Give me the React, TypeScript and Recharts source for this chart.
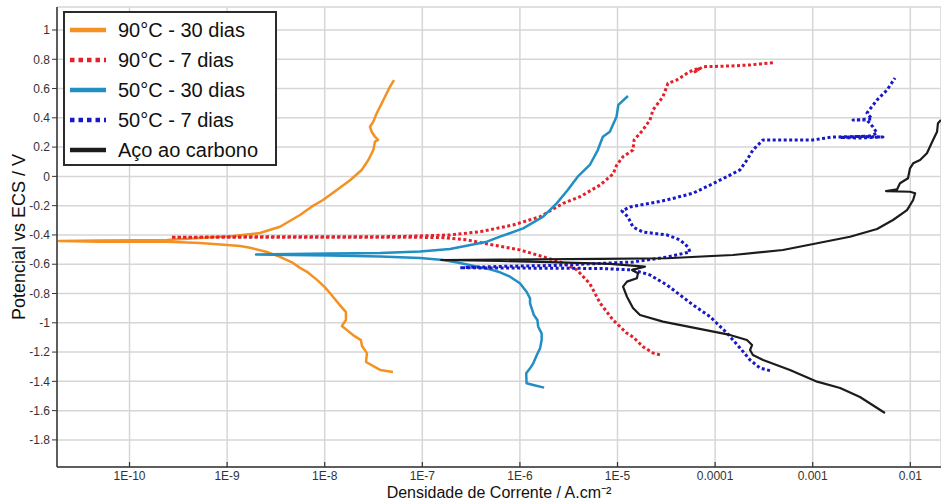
import React from 'react';
import { LineChart, Line, XAxis, YAxis, CartesianGrid, Legend } from 'recharts';

const FONT = '"Liberation Sans", Arial, Helvetica, sans-serif';

// ---- axis ticks ----
const xTicks = [1e-10, 1e-9, 1e-8, 1e-7, 1e-6, 1e-5, 1e-4, 1e-3, 1e-2];
const xTickLabels = ['1E-10', '1E-9', '1E-8', '1E-7', '1E-6', '1E-5', '0.0001', '0.001', '0.01'];
const yTicks = [-1.8, -1.6, -1.4, -1.2, -1, -0.8, -0.6, -0.4, -0.2, 0, 0.2, 0.4, 0.6, 0.8, 1];
const yTickLabels = ['-1.8', '-1.6', '-1.4', '-1.2', '-1', '-0.8', '-0.6', '-0.4', '-0.2', '0', '0.2', '0.4', '0.6', '0.8', '1'];
const yMinorTicks = [-1.9, -1.7, -1.5, -1.3, -1.1, -0.9, -0.7, -0.5, -0.3, -0.1, 0.1, 0.3, 0.5, 0.7, 0.9, 1.1];
const xDomain = [1.807e-11, 2.063e-2];
const yDomain = [-1.985, 1.157];

// ---- series: [current density A/cm², potential V vs ECS] ----
const curve90c30d: [number, number][] = [
  [5.0e-8, -1.336], [3.69e-8, -1.322], [2.65e-8, -1.268], [2.71e-8, -1.207], [2.41e-8, -1.159],
  [2.35e-8, -1.118], [1.95e-8, -1.084], [1.69e-8, -1.05], [1.5e-8, -1.022], [1.65e-8, -0.981],
  [1.65e-8, -0.927], [1.43e-8, -0.879], [1.13e-8, -0.797], [1.0e-8, -0.756], [8.34e-9, -0.707],
  [6.59e-9, -0.652], [5.58e-9, -0.625], [4.73e-9, -0.591], [3.48e-9, -0.55], [2.56e-9, -0.516],
  [1.72e-9, -0.488], [1.36e-9, -0.475], [1.0e-9, -0.468], [5.27e-10, -0.455], [2.42e-10, -0.446],
  [4.99e-11, -0.446], [1.9e-11, -0.441], [4.99e-11, -0.438], [2.42e-10, -0.434], [5.27e-10, -0.421],
  [1.15e-9, -0.407], [2.17e-9, -0.387], [3.48e-9, -0.344], [5.58e-9, -0.264], [7.36e-9, -0.207],
  [9.6e-9, -0.161], [1.33e-8, -0.093], [1.82e-8, -0.026], [2.39e-8, 0.044], [2.8e-8, 0.112],
  [3.15e-8, 0.18], [3.27e-8, 0.237], [3.52e-8, 0.249], [3.27e-8, 0.271], [3.03e-8, 0.305],
  [2.91e-8, 0.339], [3.15e-8, 0.374], [3.41e-8, 0.431], [3.84e-8, 0.499], [3.99e-8, 0.522],
  [4.32e-8, 0.568], [4.67e-8, 0.613], [5.13e-8, 0.658],
];

const curve90c7d: [number, number][] = [
  [2.72e-5, -1.219], [2.31e-5, -1.206], [1.82e-5, -1.163], [1.44e-5, -1.097], [1.24e-5, -1.07],
  [9.0e-6, -0.981], [6.62e-6, -0.865], [5.23e-6, -0.735], [3.85e-6, -0.639], [2.77e-6, -0.592],
  [1.9e-6, -0.557], [1.0e-6, -0.502], [5.3e-7, -0.469], [2.87e-7, -0.434], [1.52e-7, -0.417],
  [5.9e-8, -0.416], [1.13e-8, -0.416], [1.72e-9, -0.416], [2.66e-10, -0.416],
  [1.72e-9, -0.413], [1.13e-8, -0.413], [5.9e-8, -0.411], [1.92e-7, -0.4], [3.9e-7, -0.378],
  [8.49e-7, -0.332], [1.61e-6, -0.275], [2.77e-6, -0.184], [4.13e-6, -0.139], [6.62e-6, -0.059],
  [9.0e-6, 0.016], [9.8e-6, 0.076], [1.14e-5, 0.135], [1.44e-5, 0.18], [1.48e-5, 0.249],
  [1.82e-5, 0.317], [2.15e-5, 0.385], [2.31e-5, 0.454], [2.92e-5, 0.544], [3.29e-5, 0.636],
  [4.03e-5, 0.658], [5.15e-5, 0.704], [5.94e-5, 0.727], [7.0e-5, 0.738], [6.22e-5, 0.715],
  [7.52e-5, 0.749], [1.42e-4, 0.754], [2.28e-4, 0.761], [2.88e-4, 0.768], [4.01e-4, 0.777],
];

const curve50c30d: [number, number][] = [
  [1.77e-6, -1.443], [1.37e-6, -1.425], [1.17e-6, -1.413], [1.16e-6, -1.345], [1.27e-6, -1.311],
  [1.37e-6, -1.277], [1.49e-6, -1.22], [1.61e-6, -1.174], [1.67e-6, -1.117], [1.67e-6, -1.072],
  [1.54e-6, -1.027], [1.51e-6, -0.981], [1.39e-6, -0.947], [1.32e-6, -0.901], [1.27e-6, -0.867],
  [1.27e-6, -0.833], [1.17e-6, -0.788], [1.0e-6, -0.73], [7.92e-7, -0.685], [6.25e-7, -0.655],
  [4.94e-7, -0.635], [3.9e-7, -0.621], [2.43e-7, -0.592], [1.63e-7, -0.571], [9.5e-8, -0.557],
  [3.69e-8, -0.547], [1.13e-8, -0.54], [4.4e-9, -0.537], [1.98e-9, -0.533],
  [4.4e-9, -0.53], [1.13e-8, -0.527], [3.69e-8, -0.524], [9.5e-8, -0.513], [1.92e-7, -0.496],
  [4.6e-7, -0.446], [6.25e-7, -0.412], [1.08e-6, -0.355], [1.73e-6, -0.275], [2.38e-6, -0.184],
  [3.09e-6, -0.093], [3.91e-6, -0.002], [5.2e-6, 0.078], [6.28e-6, 0.18], [7.08e-6, 0.271],
  [8.34e-6, 0.305], [9.77e-6, 0.408], [1.02e-5, 0.488], [1.28e-5, 0.549],
];

const curve50c7d: [number, number][] = [
  [3.65e-4, -1.327], [2.88e-4, -1.309], [2.28e-4, -1.254], [1.8e-4, -1.172], [1.32e-4, -1.07],
  [8.87e-5, -0.958], [5.94e-5, -0.878], [4.37e-5, -0.81], [3.21e-5, -0.742], [2.15e-5, -0.673],
  [1.44e-5, -0.639], [6.62e-6, -0.629], [2.03e-6, -0.627], [6.25e-7, -0.626], [2.43e-7, -0.624],
  [6.25e-7, -0.615], [2.03e-6, -0.609], [1.44e-5, -0.585], [3.21e-5, -0.551], [5.53e-5, -0.516],
  [5.27e-5, -0.482], [4.37e-5, -0.434], [3.21e-5, -0.4], [1.82e-5, -0.38], [1.44e-5, -0.346],
  [1.28e-5, -0.277], [1.11e-5, -0.236], [1.34e-5, -0.209], [2.15e-5, -0.184], [3.21e-5, -0.161],
  [5.94e-5, -0.115], [8.87e-5, -0.059], [1.32e-4, -0.002], [1.8e-4, 0.044], [2.12e-4, 0.112],
  [2.44e-4, 0.18], [3.1e-4, 0.249], [5.86e-4, 0.249], [1.0e-3, 0.249], [1.61e-3, 0.269],
  [3.05e-3, 0.273], [5.25e-3, 0.269], [3.05e-3, 0.262], [1.91e-3, 0.266], [3.86e-3, 0.276],
  [4.56e-3, 0.296], [4.15e-3, 0.337], [3.6e-3, 0.385], [2.59e-3, 0.385], [4.05e-3, 0.392],
  [3.6e-3, 0.433], [4.56e-3, 0.522], [5.77e-3, 0.59], [6.97e-3, 0.672],
];

const curveCarbonSteel: [number, number][] = [
  [5.5e-3, -1.616], [3.05e-3, -1.507], [1.91e-3, -1.445], [1.11e-3, -1.402], [5.85e-4, -1.322],
  [3.1e-4, -1.254], [2.44e-4, -1.22], [2.28e-4, -1.186], [2.39e-4, -1.152], [2.12e-4, -1.118],
  [1.42e-4, -1.083], [6.53e-5, -1.038], [2.92e-5, -0.992], [1.7e-5, -0.947], [1.44e-5, -0.899],
  [1.25e-5, -0.822], [1.14e-5, -0.753], [1.25e-5, -0.719], [1.58e-5, -0.696], [1.62e-5, -0.662],
  [1.41e-5, -0.639], [1.91e-5, -0.617], [8.38e-6, -0.598], [2.03e-6, -0.585], [6.25e-7, -0.578],
  [1.56e-7, -0.571],
  [6.25e-7, -0.568], [6.62e-6, -0.564], [3.21e-5, -0.559], [1.52e-4, -0.537], [4.95e-4, -0.503],
  [1.11e-3, -0.457], [2.41e-3, -0.412], [4.56e-3, -0.359], [6.65e-3, -0.298], [9.25e-3, -0.23],
  [1.07e-2, -0.161], [1.12e-2, -0.115], [9.93e-3, -0.105], [5.64e-3, -0.1], [7.31e-3, -0.089],
  [7.84e-3, -0.047], [9.47e-3, -0.013], [9.93e-3, 0.055], [1.07e-2, 0.089], [1.26e-2, 0.112],
  [1.48e-2, 0.158], [1.71e-2, 0.249], [1.88e-2, 0.305], [1.92e-2, 0.363], [2.06e-2, 0.385],
];

const toRows = (pts: [number, number][]) => pts.map(([i, v]) => ({ i, v }));

const series = [
  { name: '90°C - 30 dias', data: curve90c30d, color: '#f39122', dotted: false, width: 2.5 },
  { name: '90°C - 7 dias', data: curve90c7d, color: '#e4202a', dotted: true, width: 3 },
  { name: '50°C - 30 dias', data: curve50c30d, color: '#218fc3', dotted: false, width: 2.5 },
  { name: '50°C - 7 dias', data: curve50c7d, color: '#1818c8', dotted: true, width: 3 },
  { name: 'Aço ao carbono', data: curveCarbonSteel, color: '#1c1c1c', dotted: false, width: 2.2 },
];

const labelFor = (v: number, ticks: number[], labels: string[], log: boolean) => {
  const idx = ticks.findIndex((t) =>
    log ? Math.abs(Math.log10(t) - Math.log10(v)) < 1e-6 : Math.abs(t - v) < 1e-6
  );
  return idx >= 0 ? labels[idx] : '';
};

const BOTTOM_MARGIN = 4;

const BottomTick = (props: any) => {
  const { x, y, payload } = props;
  const axisY = y - BOTTOM_MARGIN;
  return (
    <g>
      <line x1={x} x2={x} y1={axisY} y2={axisY - 5} stroke="#333" strokeWidth={1.2} />
      <text x={x} y={y} dy="0.71em" textAnchor="middle" fontSize={12} fill="#333" fontFamily={FONT}>
        {labelFor(payload.value, xTicks, xTickLabels, true)}
      </text>
    </g>
  );
};

const TopTick = (props: any) => {
  const { x, y } = props;
  return <line x1={x} x2={x} y1={y} y2={y + 6} stroke="#333" strokeWidth={1.2} />;
};

const YTitle = (props: any) => {
  const vb = props.viewBox || { x: 0, y: 7, width: 57, height: 460 };
  const cx = 19;
  const cy = vb.y + vb.height / 2;
  return (
    <text x={cx} y={cy} transform={`rotate(-90, ${cx}, ${cy})`} textAnchor="middle" dominantBaseline="central"
      fontSize={18} fill="#111" fontFamily={FONT}>
      Potencial vs ECS / V
    </text>
  );
};

const XTitle = (props: any) => {
  const vb = props.viewBox || { x: 57, y: 467, width: 884, height: 34 };
  return (
    <text x={vb.x + vb.width / 2} y={vb.y + 25} textAnchor="middle" dominantBaseline="central"
      fontSize={16} fill="#111" fontFamily={FONT}>
      Densidade de Corrente / A.cm⁻²
    </text>
  );
};

const LegendBox = () => (
  <div style={{
    border: '2px solid #2b2b2b', background: '#fff', width: 214, height: 155, boxSizing: 'border-box',
    padding: '2px 0 1px 5px', fontFamily: FONT,
  }}>
    {series.map((s) => (
      <div key={s.name} style={{ display: 'flex', alignItems: 'center', height: 30 }}>
        <svg width={36} height={8} style={{ marginRight: 12, flex: 'none' }}>
          <line x1={0} x2={36} y1={4} y2={4} stroke={s.color} strokeWidth={4.5}
            strokeDasharray={s.dotted ? '4.5 4' : undefined} />
        </svg>
        <span style={{ fontSize: 20, color: '#111', whiteSpace: 'nowrap' }}>{s.name}</span>
      </div>
    ))}
  </div>
);

export default function App() {
  return (
    <div style={{ position: 'absolute', left: 0, top: 0, width: 941, height: 501, background: '#fff' }}>
      <LineChart width={941} height={501} margin={{ top: 7, right: 0, bottom: 0, left: 0 }}>
        <CartesianGrid stroke="#d6d6d6" strokeWidth={1.5} />
        <XAxis
          dataKey="i" type="number" scale="log" domain={xDomain} allowDataOverflow
          ticks={xTicks} interval={0} height={34} tickSize={0} tickMargin={BOTTOM_MARGIN}
          tickLine={false} axisLine={{ stroke: '#333', strokeWidth: 1.5 }} tick={<BottomTick />}
          label={<XTitle />}
        />
        <XAxis
          xAxisId="top" orientation="top" dataKey="i" type="number" scale="log" domain={xDomain}
          allowDataOverflow ticks={xTicks} interval={0} height={0} tickSize={0} tickMargin={0}
          tickLine={false} axisLine={{ stroke: '#333', strokeWidth: 1.5 }} tick={<TopTick />}
        />
        <YAxis
          dataKey="v" type="number" domain={yDomain} allowDataOverflow ticks={yTicks} interval={0}
          width={57} tickSize={5} tickMargin={2}
          tickLine={{ stroke: '#333' }} axisLine={{ stroke: '#333', strokeWidth: 1.5 }}
          tick={{ fontSize: 12, fill: '#333', fontFamily: FONT }}
          tickFormatter={(v: number) => labelFor(v, yTicks, yTickLabels, false)}
          label={<YTitle />}
        />
        <YAxis
          yAxisId="minor" type="number" domain={yDomain} allowDataOverflow ticks={yMinorTicks} interval={0}
          width={0} mirror tickSize={4} tick={false} axisLine={false} tickLine={{ stroke: '#555' }}
        />
        <Legend
          content={<LegendBox />} layout="horizontal" verticalAlign="middle" align="center"
          wrapperStyle={{ left: 63, top: 11, width: 214, height: 155 }}
        />
        {series.map((s) => (
          <Line
            key={s.name} name={s.name} data={toRows(s.data)} dataKey="v" type="linear"
            stroke={s.color} strokeWidth={s.width} strokeDasharray={s.dotted ? '3 2.5' : undefined}
            dot={false} activeDot={false} isAnimationActive={false} strokeLinejoin="round"
          />
        ))}
      </LineChart>
    </div>
  );
}
